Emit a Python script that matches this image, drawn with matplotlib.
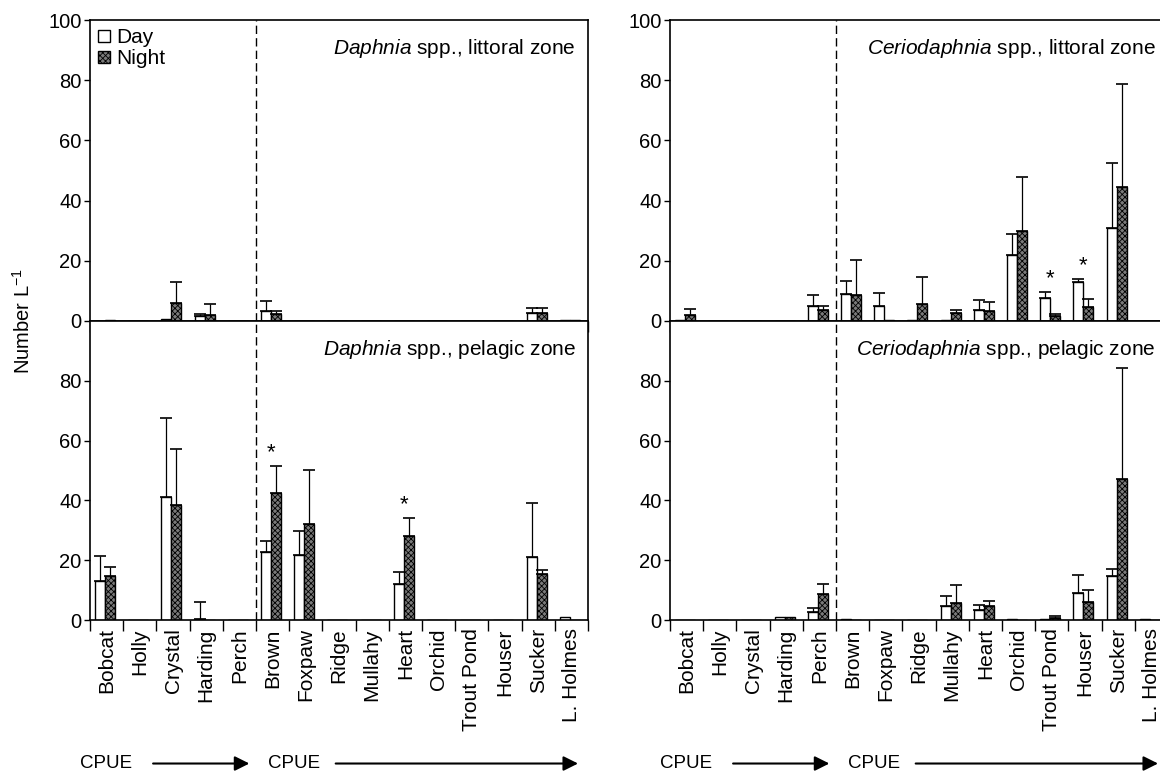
import numpy as np
import matplotlib
matplotlib.use('Agg')
import matplotlib.pyplot as plt
from matplotlib.patches import Patch

plt.rcParams['font.family'] = ['Liberation Sans', 'DejaVu Sans']
plt.rcParams['mathtext.fontset'] = 'custom'
plt.rcParams['mathtext.rm'] = 'Liberation Sans'
plt.rcParams['mathtext.it'] = 'Liberation Sans:italic'
plt.rcParams['hatch.linewidth'] = 0.6

lakes = ['Bobcat', 'Holly', 'Crystal', 'Harding', 'Perch', 'Brown', 'Foxpaw', 'Ridge',
         'Mullahy', 'Heart', 'Orchid', 'Trout Pond', 'Houser', 'Sucker', 'L. Holmes']

# Daphnia, littoral zone
daph_lit_day = [0.1, 0.1, 0.5, 1.8, 0, 3.2, 0, 0, 0, 0, 0.1, 0.1, 0.1, 2.8, 0.2]
daph_lit_day_se = [0, 0, 0, 0.5, 0, 3.3, 0, 0, 0, 0, 0, 0, 0, 1.6, 0]
daph_lit_night = [0.3, 0.1, 5.9, 1.9, 0, 2.2, 0, 0, 0, 0, 0.1, 0.1, 0.1, 2.8, 0.2]
daph_lit_night_se = [0, 0, 7.0, 3.8, 0, 1.0, 0, 0, 0, 0, 0, 0, 0, 1.6, 0]

# Daphnia, pelagic zone
daph_pel_day = [13.0, 0, 41.2, 0.4, 0, 22.6, 21.9, 0, 0, 12.1, 0, 0, 0, 21.2, 1.1]
daph_pel_day_se = [8.5, 0, 26.4, 5.6, 0, 3.7, 7.9, 0, 0, 4.1, 0, 0, 0, 17.8, 0]
daph_pel_night = [14.8, 0, 38.5, 0.1, 0.1, 42.4, 32.0, 0, 0, 28.2, 0, 0, 0, 15.3, 0]
daph_pel_night_se = [2.9, 0, 18.7, 0, 0, 9.1, 18.3, 0, 0, 6.0, 0, 0, 0, 1.4, 0]

# Ceriodaphnia, littoral zone
cer_lit_day = [0.2, 0, 0, 0, 4.9, 9.1, 4.9, 0.3, 0.3, 3.5, 21.8, 7.7, 13.1, 30.9, 0]
cer_lit_day_se = [0, 0, 0, 0, 3.6, 4.2, 4.5, 0, 0, 3.4, 7.2, 1.9, 0.9, 21.5, 0]
cer_lit_night = [1.9, 0, 0, 0, 3.5, 8.7, 0.2, 5.7, 2.8, 3.2, 29.8, 1.7, 4.6, 44.4, 0]
cer_lit_night_se = [2.2, 0, 0, 0, 1.4, 11.6, 0, 8.9, 0.7, 3.1, 17.9, 0.7, 2.6, 34.3, 0]

# Ceriodaphnia, pelagic zone
cer_pel_day = [0, 0, 0, 1.1, 2.6, 0.2, 0, 0, 4.6, 3.2, 0.3, 0.4, 9.0, 14.8, 0.3]
cer_pel_day_se = [0, 0, 0, 0, 1.3, 0, 0, 0, 3.4, 1.9, 0, 0, 6.2, 2.4, 0]
cer_pel_night = [0, 0, 0, 1.0, 8.6, 0, 0, 0, 5.7, 4.8, 0.1, 0.8, 6.0, 47.3, 0]
cer_pel_night_se = [0, 0, 0, 0, 3.6, 0, 0, 0, 5.9, 1.5, 0, 0.7, 3.9, 37.0, 0]

# significant day/night differences
daph_pel_stars = ['Brown', 'Heart']
cer_lit_stars = ['Trout Pond', 'Houser']

FS = 15
TICK_FS = 14.5
CPUE_FS = 13.5
NIGHT_FC = '#7a7a7a'


def draw_panel(ax, day, day_se, night, night_se, title, stars=(), ytop=True, xlabels=False):
    x = np.arange(len(lakes))
    w = 0.3
    xd = x - 0.2
    xn = x + 0.1
    ax.bar(xd, day, w, color='white', edgecolor='k', linewidth=1.0, zorder=2)
    ax.bar(xn, night, w, color=NIGHT_FC, edgecolor='k', hatch='xxxxxx', linewidth=1.0, zorder=2)
    for xs, v, se in ((xd, day, day_se), (xn, night, night_se)):
        v = np.array(v)
        se = np.array(se)
        m = se > 0
        ax.errorbar(xs[m], v[m], yerr=[np.zeros(m.sum()), se[m]], fmt='none',
                    ecolor='k', elinewidth=0.9, capsize=4, capthick=1.2, zorder=3)
    for s in stars:
        i = lakes.index(s)
        top = max(day[i] + day_se[i], night[i] + night_se[i])
        ax.text(i - 0.05, top + 1.0, '*', ha='center', va='bottom', fontsize=16)

    ax.axvline(4.5, color='k', lw=1.0, ls=(0, (6, 3)), zorder=1)
    ax.set_xlim(-0.5, 14.5)
    ax.set_ylim(0, 100)
    ax.set_xticks(np.arange(-0.5, 15, 1))
    ax.set_xticklabels([])
    ax.tick_params(axis='x', which='major', direction='out', length=8, width=1.0)
    ax.set_xticks(x, minor=True)
    if xlabels:
        ax.set_xticklabels(lakes, minor=True, rotation=90, fontsize=FS, va='top')
    ax.tick_params(axis='x', which='minor', length=0, pad=6)
    if ytop:
        ax.set_yticks([0, 20, 40, 60, 80, 100])
    else:
        ax.set_yticks([0, 20, 40, 60, 80])
    ax.tick_params(axis='y', direction='out', length=4, width=1.0, labelsize=TICK_FS, pad=2)
    for sp in ax.spines.values():
        sp.set_linewidth(1.2)
    ax.text(0.975, 0.905, title, transform=ax.transAxes, ha='right', va='center', fontsize=FS)


def cpue_arrows(ax):
    y = -0.48
    tr = ax.get_xaxis_transform()
    ax.text(-0.8, y, 'CPUE', transform=tr, ha='left', va='center', fontsize=CPUE_FS)
    ax.annotate('', xy=(4.3, y), xytext=(1.4, y), xycoords=tr, textcoords=tr,
                arrowprops=dict(arrowstyle='-|>', mutation_scale=22, lw=1.5, color='k', shrinkA=0, shrinkB=0),
                annotation_clip=False)
    ax.text(4.85, y, 'CPUE', transform=tr, ha='left', va='center', fontsize=CPUE_FS)
    ax.annotate('', xy=(14.2, y), xytext=(6.9, y), xycoords=tr, textcoords=tr,
                arrowprops=dict(arrowstyle='-|>', mutation_scale=22, lw=1.5, color='k', shrinkA=0, shrinkB=0),
                annotation_clip=False)


fig = plt.figure(figsize=(11.6, 7.72), dpi=100)
W = 1160.0
H = 772.0
pw = 498 / W
x_left = 90 / W
x_right = 670 / W
top_b = (H - 321) / H
top_h = 301 / H
bot_b = (H - 620) / H
bot_h = 299 / H

ax1 = fig.add_axes([x_left, top_b, pw, top_h])
ax2 = fig.add_axes([x_left, bot_b, pw, bot_h])
ax3 = fig.add_axes([x_right, top_b, pw, top_h])
ax4 = fig.add_axes([x_right, bot_b, pw, bot_h])

draw_panel(ax1, daph_lit_day, daph_lit_day_se, daph_lit_night, daph_lit_night_se,
           r'$\mathit{Daphnia}$ spp., littoral zone')
draw_panel(ax2, daph_pel_day, daph_pel_day_se, daph_pel_night, daph_pel_night_se,
           r'$\mathit{Daphnia}$ spp., pelagic zone', stars=daph_pel_stars, ytop=False, xlabels=True)
draw_panel(ax3, cer_lit_day, cer_lit_day_se, cer_lit_night, cer_lit_night_se,
           r'$\mathit{Ceriodaphnia}$ spp., littoral zone', stars=cer_lit_stars)
draw_panel(ax4, cer_pel_day, cer_pel_day_se, cer_pel_night, cer_pel_night_se,
           r'$\mathit{Ceriodaphnia}$ spp., pelagic zone', ytop=False, xlabels=True)

cpue_arrows(ax2)
cpue_arrows(ax4)

handles = [Patch(facecolor='white', edgecolor='k', linewidth=1.0, label='Day'),
           Patch(facecolor=NIGHT_FC, edgecolor='k', hatch='xxxxxx', linewidth=1.0, label='Night')]
ax1.legend(handles=handles, loc='upper left', frameon=False, fontsize=FS, handlelength=0.55,
           handleheight=0.55, handletextpad=0.3, labelspacing=0.1, borderaxespad=0.2,
           borderpad=0.2)

fig.text(0.02, (H - 321) / H, r'Number L$^{\mathregular{-1}}$', rotation=90, ha='center', va='center',
         fontsize=TICK_FS)

fig.savefig('out.png', dpi=100)
